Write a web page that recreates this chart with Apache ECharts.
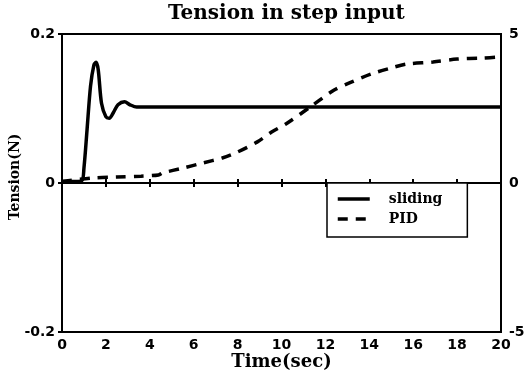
<!DOCTYPE html>
<html>
<head>
<meta charset="utf-8">
<script src="https://cdn.jsdelivr.net/npm/echarts@6/dist/echarts.min.js"></script>
<style>html,body{margin:0;padding:0;background:#fff}#c{width:528px;height:375px}</style>
</head>
<body>
<div id="c"></div>
<script>
// Sliding-mode controller response (left axis, N)
var slidingT = [0, 0.5, 0.9, 1.0, 1.14, 1.3, 1.45, 1.55, 1.65, 1.8, 2.0, 2.15, 2.35, 2.55, 2.85, 3.1, 3.4, 4, 6, 10, 14, 20];
var slidingV = [0.002, 0.002, 0.003, 0.02, 0.071, 0.13, 0.158, 0.162, 0.152, 0.107, 0.089, 0.087, 0.095, 0.105, 0.109, 0.105, 0.102, 0.102, 0.102, 0.102, 0.102, 0.102];
// PID response (right axis)
var pidT = [0, 1.4, 2.5, 3.6, 4.4, 4.6, 5.5, 6.4, 7.3, 8.0, 8.9, 9.55, 10.2, 11.4, 12.4, 13.2, 14.1, 15.0, 15.7, 16.9, 18.0, 19.1, 20];
var pidV = [0.05, 0.17, 0.2, 0.23, 0.27, 0.34, 0.5, 0.67, 0.84, 1.04, 1.38, 1.71, 1.98, 2.6, 3.12, 3.39, 3.66, 3.86, 3.99, 4.06, 4.16, 4.19, 4.23];
var xTicks = [0, 2, 4, 6, 8, 10, 12, 14, 16, 18, 20];
var leftTicks = [-0.2, 0, 0.2];
var rightTicks = [-5, 0, 5];
var seriesNames = ['sliding', 'PID'];

function pairs(t, v) { return t.map(function (x, i) { return [x, v[i]]; }); }

var chart = echarts.init(document.getElementById('c'), null, {renderer: 'canvas'});
var bold = {fontFamily: 'DejaVu Sans', fontWeight: 'bold', fontSize: 14, color: '#000'};
chart.setOption({
  animation: false,
  backgroundColor: '#fff',
  title: {
    text: 'Tension in step input',
    left: 163, top: -1,
    textStyle: {fontFamily: 'DejaVu Serif', fontWeight: 'bold', fontSize: 20, color: '#000'}
  },
  grid: {left: 62, right: 27, top: 34, bottom: 43, containLabel: false, outerBoundsMode: 'none',
    show: true, borderColor: '#000', borderWidth: 2, backgroundColor: '#fff'},
  legend: {
    orient: 'vertical',
    left: 327, top: 183,
    data: seriesNames,
    itemWidth: 32, itemHeight: 14, itemGap: 6,
    padding: [9, 25, 11, 9],
    backgroundColor: '#fff',
    borderColor: '#000', borderWidth: 1.5, borderRadius: 0,
    itemStyle: {opacity: 0},
    lineStyle: {width: 3.5},
    textStyle: {fontFamily: 'DejaVu Serif', fontWeight: 'bold', fontSize: 14, color: '#000', padding: [0, 0, 0, 14]}
  },
  xAxis: [{
    type: 'value', min: xTicks[0], max: xTicks[xTicks.length - 1], interval: 2,
    name: 'Time(sec)', nameLocation: 'middle', nameGap: 21, nameMoveOverlap: false,
    nameTextStyle: {fontFamily: 'DejaVu Serif', fontWeight: 'bold', fontSize: 18, color: '#000'},
    axisLine: {show: true, lineStyle: {color: '#000', width: 2}},
    axisTick: {show: true, inside: true, length: 4, lineStyle: {color: '#000', width: 2}},
    axisLabel: Object.assign({margin: 6}, bold),
    splitLine: {show: false}
  }, {
    type: 'value', position: 'top', min: 0, max: 20, interval: 2,
    axisLine: {show: true, lineStyle: {color: '#000', width: 2}},
    axisTick: {show: true, inside: true, length: 4, lineStyle: {color: '#000', width: 2}},
    axisLabel: {show: false}, splitLine: {show: false}
  }],
  yAxis: [{
    type: 'value', min: leftTicks[0], max: leftTicks[2], interval: 0.2,
    name: 'Tension(N)', nameLocation: 'middle', nameGap: 40, nameMoveOverlap: false,
    nameTextStyle: {fontFamily: 'DejaVu Serif', fontWeight: 'bold', fontSize: 14, color: '#000', padding: [0, 0, 0, 12]},
    axisLine: {show: true, lineStyle: {color: '#000', width: 2}},
    axisTick: {show: true, inside: true, length: 4, lineStyle: {color: '#000', width: 2}},
    axisLabel: Object.assign({margin: 7, formatter: function (v) { return Math.abs(v) < 1e-9 ? '0' : String(Math.round(v * 10) / 10); }}, bold),
    splitLine: {show: false}
  }, {
    type: 'value', min: rightTicks[0], max: rightTicks[2], interval: 5, position: 'right',
    axisLine: {show: true, lineStyle: {color: '#000', width: 2}},
    axisTick: {show: true, inside: true, length: 4, lineStyle: {color: '#000', width: 2}},
    axisLabel: Object.assign({margin: 8}, bold),
    splitLine: {show: false}
  }],
  series: [{
    name: seriesNames[0], type: 'line', xAxisIndex: 0, yAxisIndex: 0,
    data: pairs(slidingT, slidingV), symbol: 'none', smooth: 0.3,
    lineStyle: {color: '#000', width: 3.5}, itemStyle: {color: '#000'}
  }, {
    name: seriesNames[1], type: 'line', xAxisIndex: 0, yAxisIndex: 1,
    data: pairs(pidT, pidV), symbol: 'none', smooth: 0.3,
    lineStyle: {color: '#000', width: 3.5, type: [10, 8]}, itemStyle: {color: '#000'}
  }]
});
</script>
</body>
</html>
